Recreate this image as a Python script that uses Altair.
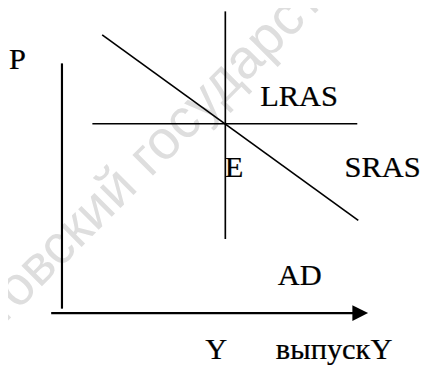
import altair as alt
import pandas as pd

# Diagram geometry (image pixel units, y grows downward)
axis_name = ["P axis", "output axis"]
axis_x1 = [63, 52]
axis_y1 = [61, 315.5]
axis_x2 = [63, 362]
axis_y2 = [311, 315.5]

curve_name = ["AD", "SRAS", "LRAS"]
curve_x1 = [104, 94, 229.5]
curve_y1 = [32, 122.5, 8]
curve_x2 = [365, 364, 229.5]
curve_y2 = [221, 122.5, 240]

arrow_x = [367]
arrow_y = [315.5]

label_text = ["P", "LRAS", "E", "SRAS", "AD", "Y", "выпускY"]
label_x = [9, 265, 229, 351, 283, 209, 281]
label_y = [67, 104, 177, 177, 287, 362, 362]

wm_text = ["Саратовский государственный университет"]
wm_x = [-94]
wm_y = [425]

axes_df = pd.DataFrame({"name": axis_name, "x1": axis_x1, "y1": axis_y1, "x2": axis_x2, "y2": axis_y2})
curves_df = pd.DataFrame({"name": curve_name, "x1": curve_x1, "y1": curve_y1, "x2": curve_x2, "y2": curve_y2})
arrow_df = pd.DataFrame({"x": arrow_x, "y": arrow_y})
labels_df = pd.DataFrame({"text": label_text, "x": label_x, "y": label_y})
wm_df = pd.DataFrame({"text": wm_text, "x": wm_x, "y": wm_y})

xs = alt.Scale(domain=[8, 432], nice=False, zero=False)
ys = alt.Scale(domain=[8, 366], nice=False, zero=False, reverse=True)

watermark = alt.Chart(wm_df).mark_text(
    align="left", baseline="alphabetic", angle=315, fontSize=56,
    font="Liberation Sans", color="#dedede"
).encode(
    x=alt.X("x:Q", scale=xs, axis=None),
    y=alt.Y("y:Q", scale=ys, axis=None),
    text="text:N",
)

axes = alt.Chart(axes_df).mark_rule(color="black", strokeWidth=2.2).encode(
    x=alt.X("x1:Q", scale=xs, axis=None),
    y=alt.Y("y1:Q", scale=ys, axis=None),
    x2="x2:Q",
    y2="y2:Q",
)

curves = alt.Chart(curves_df).mark_rule(color="black", strokeWidth=1.7).encode(
    x=alt.X("x1:Q", scale=xs, axis=None),
    y=alt.Y("y1:Q", scale=ys, axis=None),
    x2="x2:Q",
    y2="y2:Q",
)

arrow = alt.Chart(arrow_df).mark_point(
    shape="M-1,-1L1,0L-1,1Z", filled=True, size=256, color="black", opacity=1
).encode(
    x=alt.X("x:Q", scale=xs, axis=None),
    y=alt.Y("y:Q", scale=ys, axis=None),
)

labels = alt.Chart(labels_df).mark_text(
    align="left", baseline="alphabetic", fontSize=31,
    font="Liberation Serif", color="black", stroke="black", strokeWidth=0.25
).encode(
    x=alt.X("x:Q", scale=xs, axis=None),
    y=alt.Y("y:Q", scale=ys, axis=None),
    text="text:N",
)

chart = alt.layer(watermark, axes, curves, arrow, labels).properties(
    width=424, height=358, padding=0, autosize=alt.AutoSizeParams(type="none")
).configure_view(stroke=None)

chart.save("out.html", embed_options={"renderer": "svg", "actions": False})
